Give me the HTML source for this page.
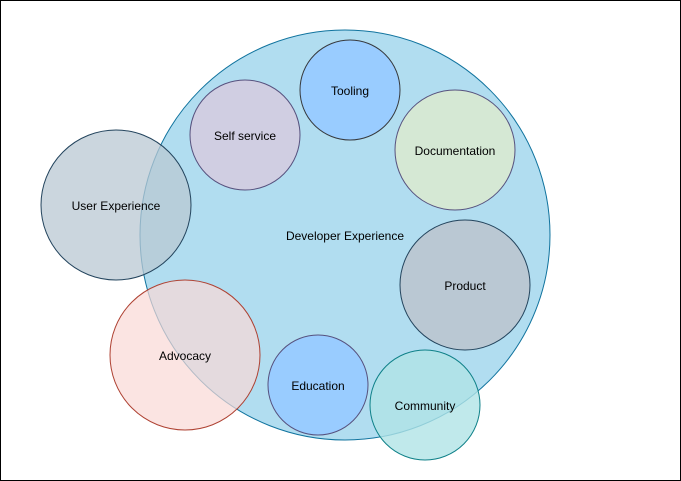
<!DOCTYPE html>
<html><head><meta charset="utf-8"><style>
html,body{margin:0;padding:0;background:#fff;}
svg{display:block;}
text{font-family:"Liberation Sans",Arial,sans-serif;font-size:12px;fill:#000;text-anchor:middle;dominant-baseline:central;}
</style></head><body>
<svg width="681" height="481" viewBox="0 0 681 481" xmlns="http://www.w3.org/2000/svg">
<rect x="0.5" y="0.5" width="680" height="480" fill="#fff" stroke="#000" stroke-width="1"/>
<circle cx="345" cy="235" r="205" fill="#b1ddf0" stroke="#10739e"/>
<text x="345" y="236">Developer Experience</text>
<circle cx="350" cy="90" r="50" fill="#99ccff" stroke="#36393d"/>
<text x="350" y="91">Tooling</text>
<circle cx="245" cy="135" r="55" fill="#d0cee2" stroke="#56517e"/>
<text x="245" y="136">Self service</text>
<circle cx="455" cy="150" r="60" fill="#d5e8d4" stroke="#56517e"/>
<text x="455" y="151">Documentation</text>
<circle cx="465" cy="285" r="65" fill="#bac8d3" stroke="#23445d"/>
<text x="465" y="286">Product</text>
<circle cx="318" cy="385" r="50" fill="#99ccff" stroke="#56517e"/>
<text x="318" y="386">Education</text>
<circle cx="116" cy="205" r="75" fill="#bac8d3" fill-opacity="0.75" stroke="#23445d"/>
<text x="116" y="206">User Experience</text>
<circle cx="185" cy="355" r="75" fill="#fad9d5" fill-opacity="0.7" stroke="#ae4132"/>
<text x="185" y="356">Advocacy</text>
<circle cx="425" cy="405" r="55" fill="#b0e3e6" fill-opacity="0.8" stroke="#0e8088"/>
<text x="425" y="406">Community</text>
</svg>
</body></html>
